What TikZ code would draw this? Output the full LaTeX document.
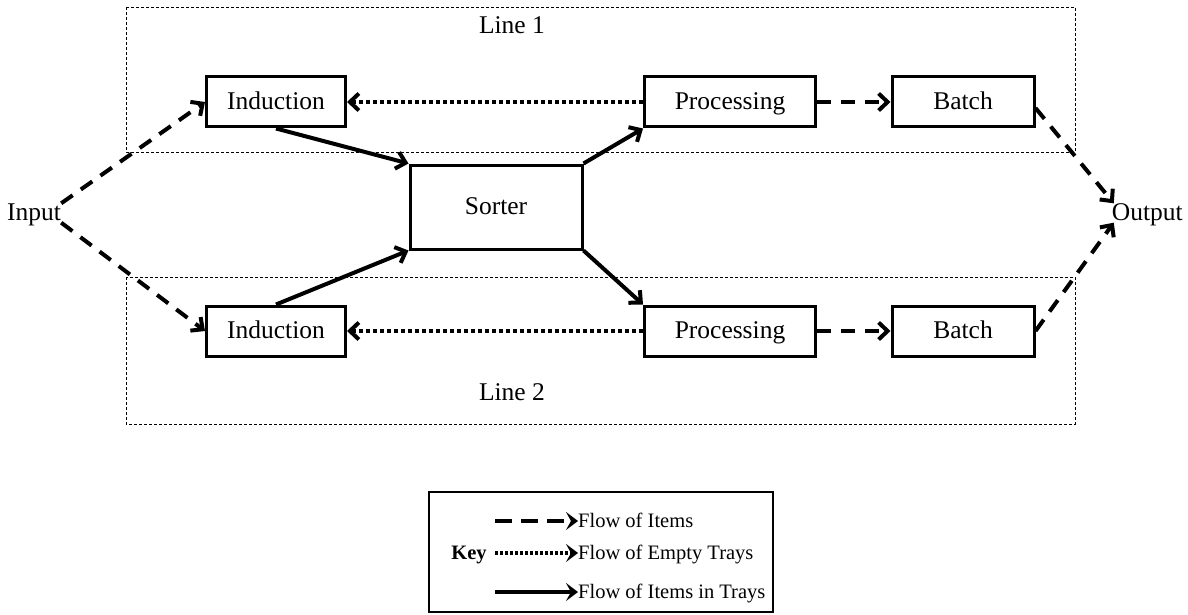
\documentclass[tikz,border=0pt]{standalone}
\usepackage{fontspec}
\setmainfont{Liberation Serif}
\usetikzlibrary{arrows.meta}
\begin{document}
\begin{tikzpicture}[x=1pt,y=-1pt,
  proc/.style={draw,line width=3pt,minimum height=50pt,inner sep=0pt,
    text height=17pt,text depth=2pt,font=\fontsize{25.5}{30}\selectfont},
  lbl/.style={inner sep=0pt,text height=17pt,text depth=2pt,font=\fontsize{25.5}{30}\selectfont},
  linebox/.style={draw,line width=0.8pt,dash pattern=on 3pt off 2pt},
  chev/.style={-{Straight Barb[length=9pt,width=17pt,line width=4pt]}},
  items/.style={line width=4pt,dash pattern=on 14pt off 10pt,chev},
  empties/.style={line width=4pt,dash pattern=on 4pt off 3pt,chev},
  trays/.style={line width=4pt,chev},
  keyhead/.style={-{Stealth[length=12pt,width=18pt,inset=5pt]}},
  keytext/.style={inner sep=0pt,anchor=west,text height=15pt,text depth=2pt,font=\fontsize{20.5}{24}\selectfont}]
\useasboundingbox (0,0) rectangle (1188,615);

% production lines
\draw[linebox] (126,7) rectangle (1075,152);
\draw[linebox] (126,277) rectangle (1075,424);
\node[lbl] (l1) at (512,26) {Line 1};
\node[lbl] (l2) at (512,393) {Line 2};

% stations
\node[proc,minimum width=139pt] (ind1) at (276,102) {Induction};
\node[proc,minimum width=139pt] (ind2) at (276,331) {Induction};
\node[proc,minimum width=172pt,minimum height=84pt] (sort) at (496,207) {Sorter};
\node[proc,minimum width=171pt] (pro1) at (730,102) {Processing};
\node[proc,minimum width=171pt] (pro2) at (730,331) {Processing};
\node[proc,minimum width=142pt] (bat1) at (963,102) {Batch};
\node[proc,minimum width=142pt] (bat2) at (963,331) {Batch};
\node[lbl,anchor=west] (in) at (7,213) {Input};
\node[lbl,anchor=east] (out) at (1183,213) {Output};

% flows
\draw[items] (in.north east) -- (ind1.west);
\draw[items] (in.south east) -- (ind2.west);
\draw[trays] (ind1.south) -- (sort.north west);
\draw[trays] (ind2.north) -- (sort.south west);
\draw[trays] (sort.north east) -- (pro1.south west);
\draw[trays] (sort.south east) -- (pro2.north west);
\draw[empties] (pro1.west) -- (ind1.east);
\draw[empties] (pro2.west) -- (ind2.east);
\draw[items] (pro1.east) -- (bat1.west);
\draw[items] (pro2.east) -- (bat2.west);
\draw[items] ([yshift=-6pt]bat1.east) -- ([xshift=2pt]out.north west);
\draw[items] (bat2.east) -- ([xshift=2pt]out.south west);

% key
\node[draw,line width=2.5pt,minimum width=344pt,minimum height=120pt,inner sep=0pt] (key) at (601,552) {};
\node[inner sep=0pt,text height=15pt,text depth=2pt,font=\fontsize{20.5}{24}\selectfont\bfseries] (keyl) at (469,553) {Key};
\node[keytext] (k1) at (578,521) {Flow of Items};
\node[keytext] (k2) at (578,553) {Flow of Empty Trays};
\node[keytext] (k3) at (578,592) {Flow of Items in Trays};
\coordinate (s1) at (495,521);
\coordinate (s2) at (495,553);
\coordinate (s3) at (495,592);
\draw[line width=4pt,dash pattern=on 17pt off 9pt,keyhead] (s1) -- (k1.west);
\draw[line width=4pt,dash pattern=on 3pt off 2pt,keyhead] (s2) -- (k2.west);
\draw[line width=4pt,keyhead] (s3) -- (k3.west);
\end{tikzpicture}
\end{document}
